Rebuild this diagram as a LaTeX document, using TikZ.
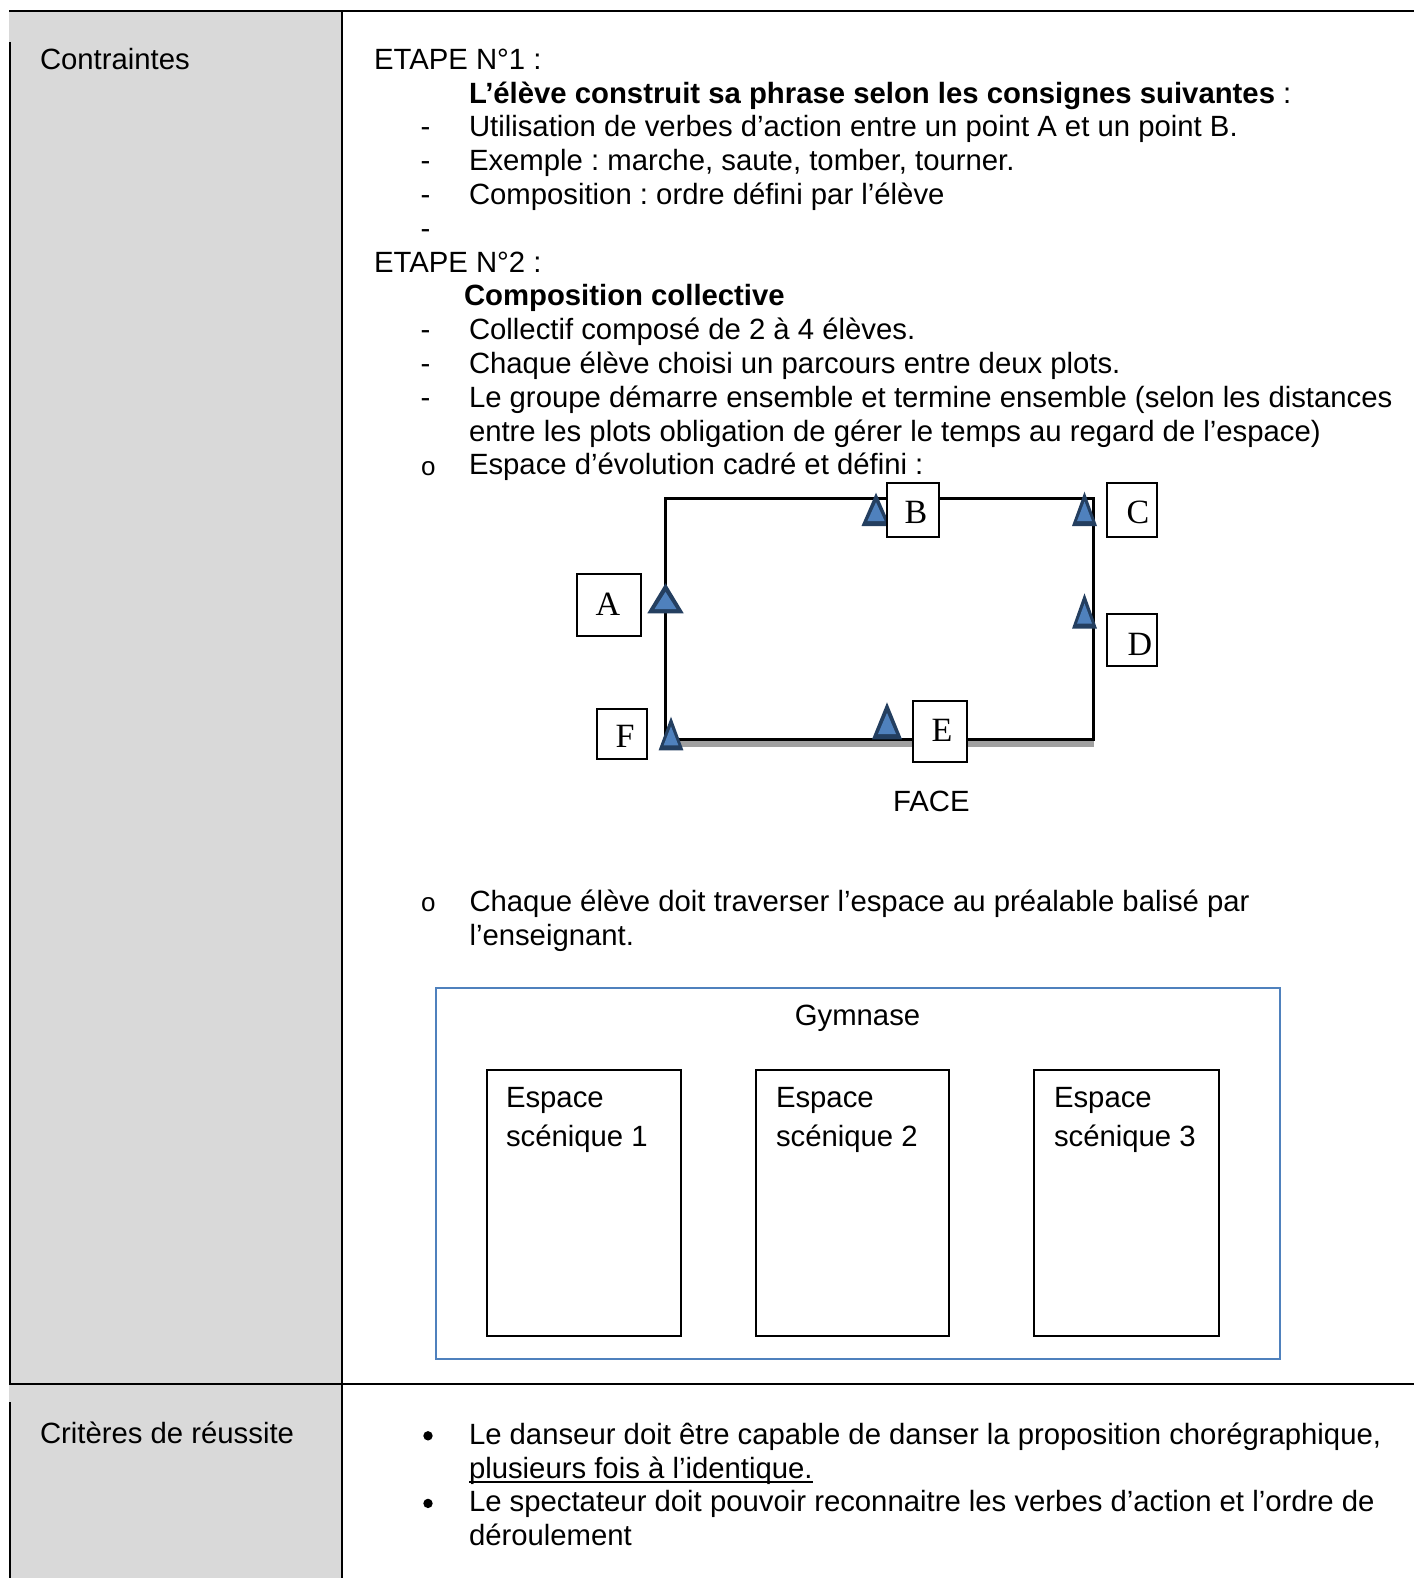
\documentclass[tikz,border=0pt]{standalone}
\usepackage{fontspec}
\setmainfont{Liberation Sans}
\newfontfamily\serifL{Liberation Serif}
\usetikzlibrary{calc}
\frenchspacing
\definecolor{cellgray}{HTML}{D9D9D9}
\definecolor{triblue}{HTML}{4F81BD}
\definecolor{tridark}{HTML}{243F60}
\definecolor{gymblue}{HTML}{4F81BD}
\definecolor{shadowgray}{HTML}{A0A0A0}
\newcommand\plotmark[4]{%
  \pgfmathsetmacro\tmcy{(#2+2*#3)/3}%
  \pgfmathsetmacro\tmia{0.43*\tmcy+0.57*#2}%
  \pgfmathsetmacro\tmib{0.43*\tmcy+0.57*#3}%
  \pgfmathsetmacro\tmiw{0.6*#4}%
  \fill[tridark] (#1,#2) -- ({#1-#4},#3) -- ({#1+#4},#3) -- cycle;
  \fill[triblue] (#1,\tmia) -- ({#1-\tmiw},\tmib) -- ({#1+\tmiw},\tmib) -- cycle;
}
\begin{document}
\begin{tikzpicture}[x=1pt,y=-1pt,
  txt/.style={anchor=base west, inner sep=0pt, outer sep=0pt, font=\fontsize{29.3pt}{33.8pt}\selectfont},
  ctxt/.style={anchor=base, inner sep=0pt, outer sep=0pt, font=\fontsize{29.3pt}{33.8pt}\selectfont},
  obullet/.style={anchor=base west, inner sep=0pt, outer sep=0pt, font=\fontsize{26pt}{30pt}\selectfont},
  letterbox/.style={draw=black, line width=1.8pt, fill=white, anchor=north west, inner sep=0pt},
  letter/.style={anchor=base, inner sep=0pt, outer sep=0pt, font=\serifL\fontsize{34pt}{34pt}\selectfont},
  tableline/.style={line width=2pt, draw=black},
  stagebox/.style={draw=black, line width=2pt, anchor=north west, inner sep=0pt},
]
\useasboundingbox (0,0) rectangle (1414,1578);
% table
\fill[cellgray] (9,11) rectangle (342,1578);
\draw[tableline] (9,11) -- (1414,11);
\draw[tableline] (342,11) -- (342,1578);
\draw[tableline] (9,1384) -- (1414,1384);
\draw[tableline] (10,42) -- (10,1384);
\draw[tableline] (10,1402) -- (10,1578);

\node[txt] (contr) at (40,69.3) {Contraintes};
\node[txt] (crit) at (40,1443) {Critères de réussite};

% ETAPE 1
\node[txt] (et1) at (374,69.3) {ETAPE N°1 :};
\node[txt] (et1b) at (469,103.1) {\textbf{L’élève construit sa phrase selon les consignes suivantes} :};
\node[txt] (d1) at (420.5,136.9) {-};
\node[txt] (i1) at (469,136.9) {Utilisation de verbes d’action entre un point A et un point B.};
\node[txt] (d2) at (420.5,170.7) {-};
\node[txt] (i2) at (469,170.7) {Exemple : marche, saute, tomber, tourner.};
\node[txt] (d3) at (420.5,204.5) {-};
\node[txt] (i3) at (469,204.5) {Composition : ordre défini par l’élève};
\node[txt] (d4) at (420.5,238.3) {-};
% ETAPE 2
\node[txt] (et2) at (374,272.1) {ETAPE N°2 :};
\node[txt] (et2b) at (464,305.9) {\textbf{Composition collective}};
\node[txt] (d5) at (420.5,339.7) {-};
\node[txt] (i5) at (469,339.7) {Collectif composé de 2 à 4 élèves.};
\node[txt] (d6) at (420.5,373.5) {-};
\node[txt] (i6) at (469,373.5) {Chaque élève choisi un parcours entre deux plots.};
\node[txt] (d7) at (420.5,407.3) {-};
\node[txt] (i7) at (469,407.3) {Le groupe démarre ensemble et termine ensemble (selon les distances};
\node[txt] (i7b) at (469,441.1) {entre les plots obligation de gérer le temps au regard de l’espace)};
\node[obullet] (o1) at (421,475.5) {o};
\node[txt] (i8) at (469,474.9) {Espace d’évolution cadré et défini :};

% course diagram
\fill[shadowgray] (668,740.5) rectangle (1093.6,747);
\draw[line width=3pt, line cap=rect] (665.5,498.3) rectangle (1093.6,739.3);
\plotmark{665.5}{583.3}{613.3}{18.2}
\plotmark{876}{492.7}{526}{14.5}
\plotmark{1084.5}{491.7}{526}{12.5}
\plotmark{1084.5}{593.3}{628.7}{12.5}
\plotmark{887}{702.3}{739.3}{15}
\plotmark{671}{716.7}{750.3}{12.4}

\node[letterbox, minimum width=52.6pt, minimum height=54.3pt] (boxB) at (885.7,481.7) {};
\node[letterbox, minimum width=50.2pt, minimum height=54.3pt] (boxC) at (1105.8,481.7) {};
\node[letterbox, minimum width=64.4pt, minimum height=62pt] (boxA) at (575.8,573.3) {};
\node[letterbox, minimum width=50.2pt, minimum height=52.3pt] (boxD) at (1105.8,612.7) {};
\node[letterbox, minimum width=50pt, minimum height=50.3pt] (boxF) at (596,708) {};
\node[letterbox, minimum width=54.2pt, minimum height=61pt] (boxE) at (911.8,700) {};

\node[letter] (lA) at (608,615) {A};
\node[letter] (lB) at (916,523.3) {B};
\node[letter] (lC) at (1138,523.3) {C};
\node[letter] (lD) at (1140,655) {D};
\node[letter] (lE) at (942,741.7) {E};
\node[letter] (lF) at (625,747.3) {F};

\node[txt] (face) at (893,811.5) {FACE};

\node[obullet] (o2) at (421,911.7) {o};
\node[txt] (i9) at (469.5,911.7) {Chaque élève doit traverser l’espace au préalable balisé par};
\node[txt] (i9b) at (469.5,945.5) {l’enseignant.};

% gymnase
\draw[gymblue, line width=2pt] (436,988.3) rectangle (1280,1358.5);
\node[ctxt] (gym) at (857.5,1025.5) {Gymnase};
\node[stagebox, minimum width=194.6pt, minimum height=265.5pt] (s1) at (485.6,1069.3) {};
\node[stagebox, minimum width=192.9pt, minimum height=265.5pt] (s2) at (755.4,1069.3) {};
\node[stagebox, minimum width=185pt, minimum height=265.5pt] (s3) at (1033,1069.3) {};
\node[txt] (s1a) at (506,1107) {Espace};
\node[txt] (s1b) at (506,1146.3) {scénique 1};
\node[txt] (s2a) at (776,1107) {Espace};
\node[txt] (s2b) at (776,1146.3) {scénique 2};
\node[txt] (s3a) at (1054,1107) {Espace};
\node[txt] (s3b) at (1054,1146.3) {scénique 3};

% criteria
\fill (428,1435.8) circle (4.7);
\node[txt] (c1) at (469,1444.3) {Le danseur doit être capable de danser la proposition chorégraphique,};
\node[txt] (c1b) at (469,1478.1) {plusieurs fois à l’identique.};
\draw[line width=2pt] ([yshift=-3.5pt]c1b.base west) -- ([yshift=-3.5pt]c1b.base east);
\fill (428,1503.4) circle (4.7);
\node[txt] (c2) at (469,1511.9) {Le spectateur doit pouvoir reconnaitre les verbes d’action et l’ordre de};
\node[txt] (c2b) at (469,1545.7) {déroulement};
\end{tikzpicture}
\end{document}
